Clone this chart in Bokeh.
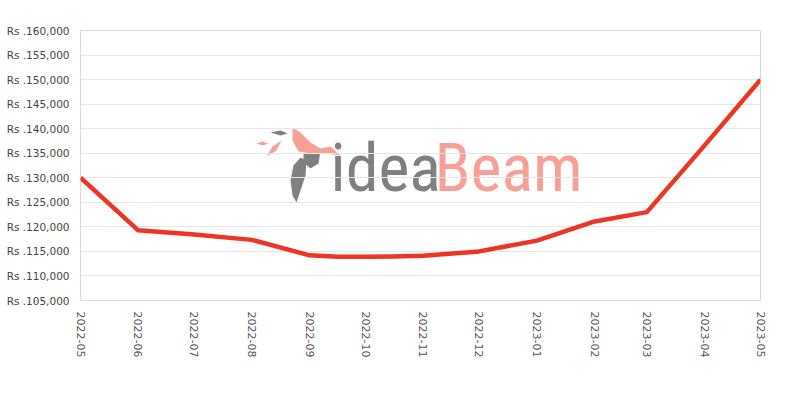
import datetime as dt
from bokeh.plotting import figure
from bokeh.models import (FixedTicker, DatetimeTickFormatter, Range1d, Label,
                          PolyAnnotation)
from bokeh.embed import file_html
from bokeh.resources import INLINE

# ---- data ----
dates = ["2022-05-01", "2022-06-01", "2022-07-01", "2022-08-01", "2022-09-01",
         "2022-09-16", "2022-10-01", "2022-10-16", "2022-11-01", "2022-12-01",
         "2023-01-01", "2023-02-01", "2023-03-01", "2023-04-01", "2023-05-01"]
prices = [130000, 119300, 118450, 117350, 114200,
          113900, 113900, 113950, 114100, 115000,
          117200, 121100, 123000, 136600, 150000]
month_ticks = ["2022-05", "2022-06", "2022-07", "2022-08", "2022-09", "2022-10",
               "2022-11", "2022-12", "2023-01", "2023-02", "2023-03", "2023-04",
               "2023-05"]
y_ticks = [105000, 110000, 115000, 120000, 125000, 130000, 135000, 140000,
           145000, 150000, 155000, 160000]
y_tick_labels = ["Rs .105,000", "Rs .110,000", "Rs .115,000", "Rs .120,000",
                 "Rs .125,000", "Rs .130,000", "Rs .135,000", "Rs .140,000",
                 "Rs .145,000", "Rs .150,000", "Rs .155,000", "Rs .160,000"]


def to_ms(s):
    d = dt.datetime.strptime(s, "%Y-%m-%d").replace(tzinfo=dt.timezone.utc)
    return d.timestamp() * 1000.0


xs = [to_ms(d) for d in dates]
xticks = [to_ms(m + "-01") for m in month_ticks]

p = figure(width=790, height=390, x_axis_type="datetime",
           output_backend="svg", toolbar_location=None,
           x_range=Range1d(xticks[0], xticks[-1]),
           y_range=Range1d(105000, 160000),
           min_border_left=80, min_border_right=30,
           min_border_top=30, min_border_bottom=90)

p.outline_line_color = "#d9d9d9"
p.outline_line_width = 1
p.background_fill_color = "white"
p.border_fill_color = "white"

# watermark (logo-like)
wm_font = "'Roboto Condensed', 'DejaVu Sans Condensed', 'Liberation Sans Narrow', Roboto"
p.add_layout(Label(x=250, y=132, x_units="screen", y_units="screen",
                   text="idea", text_font=wm_font, text_font_size="66px",
                   text_color="#808080", text_baseline="alphabetic",
                   level="image"))
p.add_layout(Label(x=354, y=132, x_units="screen", y_units="screen",
                   text="Beam", text_font=wm_font, text_font_size="66px",
                   text_color="#f7a097", text_baseline="alphabetic",
                   level="image"))


def poly(pts, color):
    p.add_layout(PolyAnnotation(xs=[a - 80 for a, b in pts],
                                ys=[300 - b for a, b in pts],
                                xs_units="screen", ys_units="screen",
                                fill_color=color, fill_alpha=1.0,
                                line_color=None, level="image"))


poly([(300, 157), (306, 160), (305, 175), (300, 190), (296, 202), (292, 195),
      (290, 180), (293, 165)], "#808080")
poly([(303, 153), (320, 150), (318, 163), (310, 168), (303, 162)], "#808080")
poly([(270, 132), (280, 130), (287, 133), (280, 135)], "#808080")
poly([(292, 127), (300, 132), (310, 142), (320, 148), (330, 146), (340, 155),
      (325, 153), (310, 153), (298, 151), (292, 140)], "#f7a097")
poly([(266, 156), (272, 146), (281, 140), (276, 150)], "#f7a097")
poly([(256, 143), (262, 141), (268, 143), (262, 145)], "#f7a097")

p.line(xs, prices, line_color="#ee3424", line_width=4.5, line_join="round")

# axes
p.xgrid.grid_line_color = None
p.ygrid.grid_line_color = "#e6e6e6"
p.ygrid.ticker = FixedTicker(ticks=y_ticks)

p.xaxis.ticker = FixedTicker(ticks=xticks)
p.xaxis.formatter = DatetimeTickFormatter(days="%Y-%m", months="%Y-%m",
                                          years="%Y-%m", hours="%Y-%m")
p.xaxis.major_label_orientation = "vertical"
p.xaxis.axis_line_color = None
p.xaxis.major_tick_line_color = None
p.xaxis.minor_tick_line_color = None
p.xaxis.major_label_standoff = 5
p.xaxis.major_label_text_font = "DejaVu Sans"
p.xaxis.major_label_text_font_size = "11px"
p.xaxis.major_label_text_color = "#555555"

p.yaxis.ticker = FixedTicker(ticks=y_ticks)
p.yaxis.major_label_overrides = {t: l for t, l in zip(y_ticks, y_tick_labels)}
p.yaxis.axis_line_color = None
p.yaxis.major_tick_line_color = None
p.yaxis.minor_tick_line_color = None
p.yaxis.major_label_standoff = 5
p.yaxis.major_label_text_font = "DejaVu Sans"
p.yaxis.major_label_text_font_size = "10.5px"
p.yaxis.major_label_text_color = "#444444"

open("out.html", "w").write(file_html(p, INLINE))
